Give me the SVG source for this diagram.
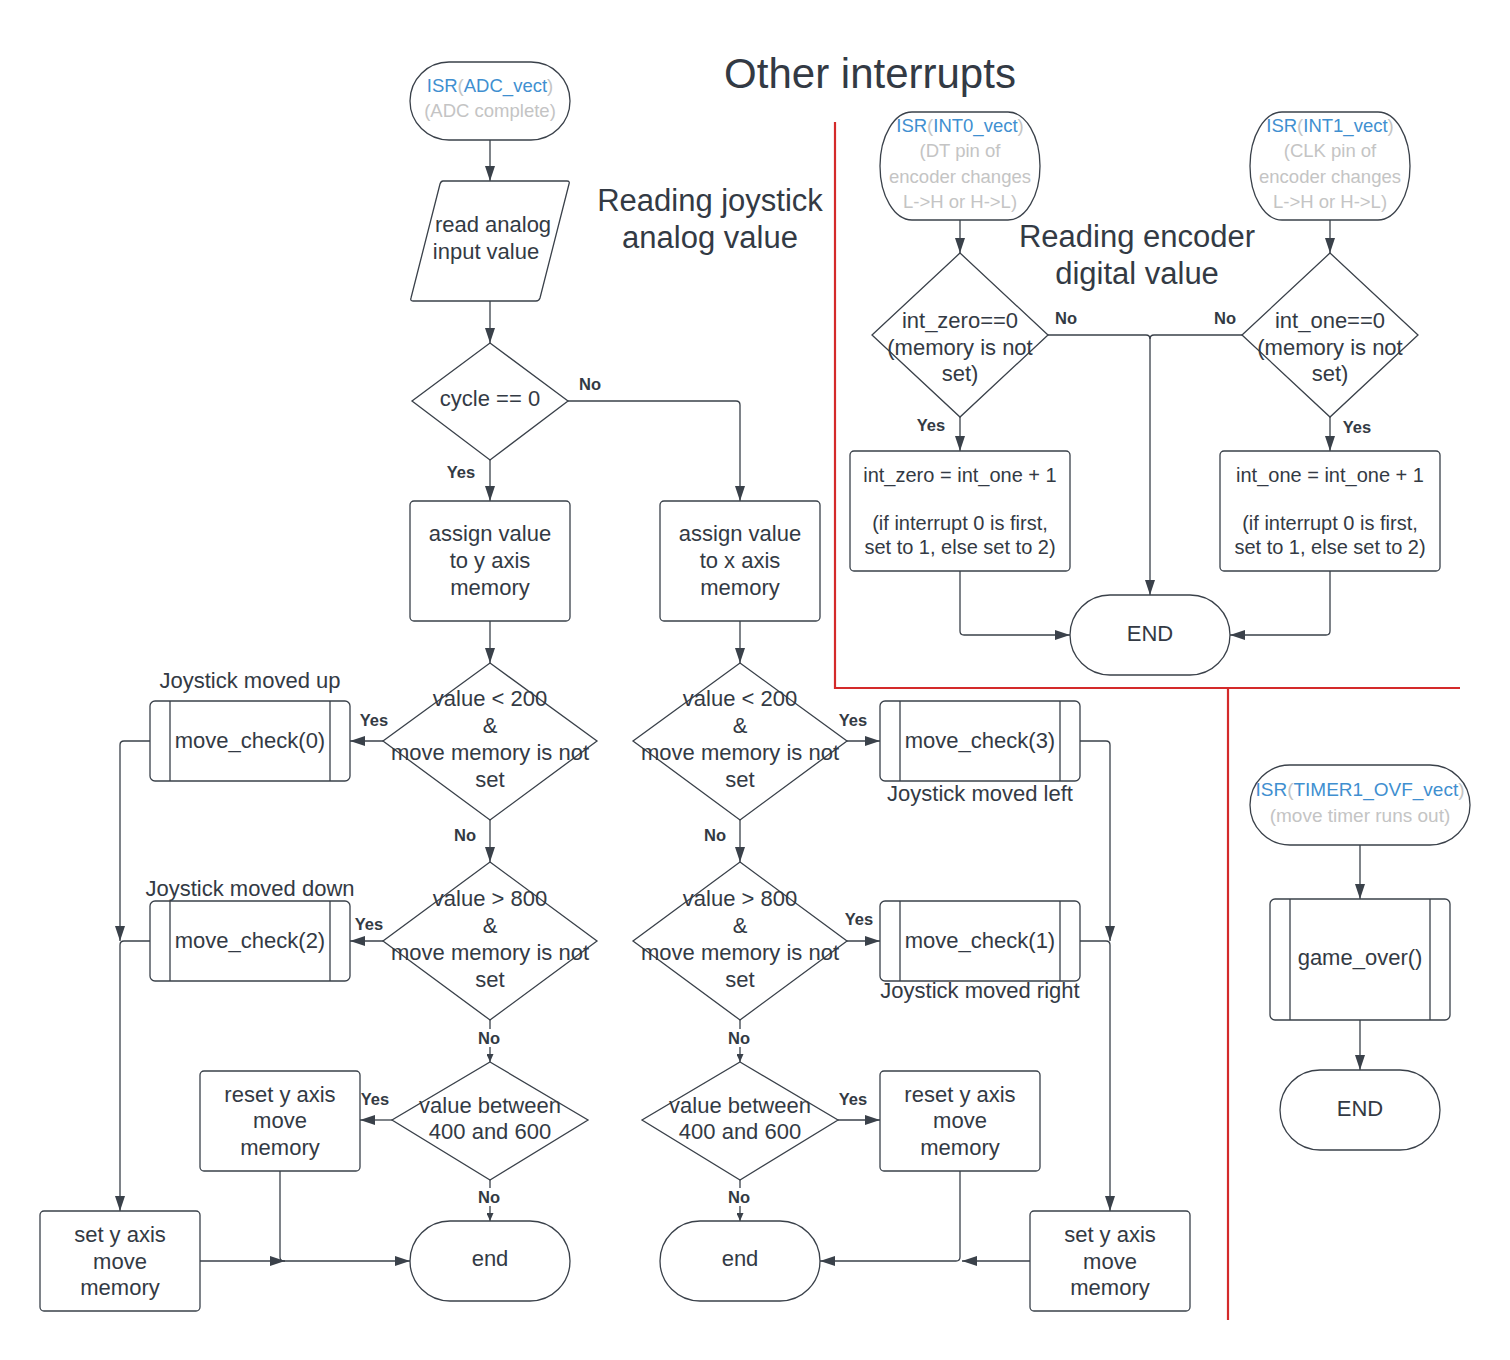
<svg xmlns="http://www.w3.org/2000/svg" width="1510" height="1360" viewBox="0 0 1510 1360">
<style>
.shape{fill:#fff;stroke:#3a414a;stroke-width:1.3}
.ln{fill:none;stroke:#3a414a;stroke-width:1.3}
.t{font-family:"Liberation Sans",Arial,sans-serif;font-size:22px;fill:#333a44;text-anchor:middle}
.s{font-size:18.5px}
.m{font-size:20px}
.lb{font-family:"Liberation Sans",Arial,sans-serif;font-size:16.5px;font-weight:bold;fill:#333a44;text-anchor:middle}
.h{font-family:"Liberation Sans",Arial,sans-serif;font-size:31px;fill:#333a44;text-anchor:middle}
.b{fill:#3f8fd0}
.g{fill:#c4c4c4}
.red{fill:none;stroke:#d42a2a;stroke-width:2.2}
</style>
<defs>
<marker id="a" markerUnits="userSpaceOnUse" markerWidth="15" markerHeight="10" refX="15" refY="5" orient="auto"><path d="M0,0 L15,5 L0,10 z" fill="#3a414a"/></marker>
<marker id="s" markerUnits="userSpaceOnUse" markerWidth="8" markerHeight="7" refX="8" refY="3.5" orient="auto"><path d="M0,0 L8,3.5 L0,7 z" fill="#3a414a"/></marker>
</defs>
<rect width="1510" height="1360" fill="#fff"/>

<g id="titles">
<text class="t" x="870" y="88" style="font-size:42px">Other interrupts</text>
<text class="h" x="710" y="211">Reading joystick</text>
<text class="h" x="710" y="248">analog value</text>
<text class="h" x="1137" y="247">Reading encoder</text>
<text class="h" x="1137" y="284">digital value</text>
</g>

<g id="dividers">
<path class="red" d="M835,122 V688 H1460"/>
<path class="red" d="M1228,688 V1320"/>
</g>

<g id="connectors">
<path class="ln" marker-end="url(#a)" d="M490,140 V181"/>
<path class="ln" marker-end="url(#a)" d="M490,301 V343"/>
<path class="ln" marker-end="url(#a)" d="M568,401 H736 Q740,401 740,405 V501"/>
<path class="ln" marker-end="url(#a)" d="M490,460 V501"/>
<path class="ln" marker-end="url(#a)" d="M490,621 V663"/>
<path class="ln" marker-end="url(#a)" d="M740,621 V663"/>
<path class="ln" marker-end="url(#a)" d="M383,741 H350"/>
<path class="ln" marker-end="url(#a)" d="M490,820 V862"/>
<path class="ln" marker-end="url(#a)" d="M383,941 H350"/>
<path class="ln" marker-end="url(#s)" d="M490,1020 V1062"/>
<path class="ln" marker-end="url(#a)" d="M392,1120 H360"/>
<path class="ln" marker-end="url(#s)" d="M490,1180 V1221"/>
<path class="ln" marker-end="url(#a)" d="M150,741 H124 Q120,741 120,745 V941"/>
<path class="ln" marker-end="url(#a)" d="M150,941 H124 Q120,941 120,945 V1211"/>
<path class="ln" marker-end="url(#a)" d="M200,1261 H285"/>
<path class="ln" marker-end="url(#a)" d="M280,1171 V1257 Q280,1261 284,1261 H410"/>
<path class="ln" marker-end="url(#a)" d="M847,741 H880"/>
<path class="ln" marker-end="url(#a)" d="M740,820 V862"/>
<path class="ln" marker-end="url(#a)" d="M847,941 H880"/>
<path class="ln" marker-end="url(#s)" d="M740,1020 V1062"/>
<path class="ln" marker-end="url(#a)" d="M838,1120 H880"/>
<path class="ln" marker-end="url(#s)" d="M740,1180 V1221"/>
<path class="ln" marker-end="url(#a)" d="M1080,741 H1106 Q1110,741 1110,745 V941"/>
<path class="ln" marker-end="url(#a)" d="M1080,941 H1106 Q1110,941 1110,945 V1211"/>
<path class="ln" marker-end="url(#a)" d="M1030,1261 H962"/>
<path class="ln" marker-end="url(#a)" d="M960,1171 V1257 Q960,1261 956,1261 H820"/>
<path class="ln" marker-end="url(#a)" d="M960,220 V253"/>
<path class="ln" marker-end="url(#a)" d="M1330,220 V253"/>
<path class="ln" marker-end="url(#a)" d="M1048,335 H1146 Q1150,335 1150,339 V595"/>
<path class="ln" d="M1242,335 H1154 Q1150,335 1150,339"/>
<path class="ln" marker-end="url(#a)" d="M960,417 V451"/>
<path class="ln" marker-end="url(#a)" d="M1330,417 V451"/>
<path class="ln" marker-end="url(#a)" d="M960,571 V631 Q960,635 964,635 H1070"/>
<path class="ln" marker-end="url(#a)" d="M1330,571 V631 Q1330,635 1326,635 H1230"/>
<path class="ln" marker-end="url(#a)" d="M1360,845 V899"/>
<path class="ln" marker-end="url(#a)" d="M1360,1020 V1070"/>
<g id="connector-labels">
<text class="lb" x="590" y="390">No</text>
<text class="lb" x="461" y="478">Yes</text>
<text class="lb" x="374" y="726">Yes</text>
<text class="lb" x="465" y="841">No</text>
<text class="lb" x="369" y="930">Yes</text>
<rect x="477" y="1029" width="26" height="18" fill="#fff"/>
<text class="lb" x="489" y="1044">No</text>
<text class="lb" x="375" y="1105">Yes</text>
<rect x="477" y="1188" width="26" height="18" fill="#fff"/>
<text class="lb" x="489" y="1203">No</text>
<text class="lb" x="853" y="726">Yes</text>
<text class="lb" x="715" y="841">No</text>
<text class="lb" x="859" y="925">Yes</text>
<rect x="727" y="1029" width="26" height="18" fill="#fff"/>
<text class="lb" x="739" y="1044">No</text>
<text class="lb" x="853" y="1105">Yes</text>
<rect x="727" y="1188" width="26" height="18" fill="#fff"/>
<text class="lb" x="739" y="1203">No</text>
<text class="lb" x="1066" y="324">No</text>
<text class="lb" x="1225" y="324">No</text>
<text class="lb" x="931" y="431">Yes</text>
<text class="lb" x="1357" y="433">Yes</text>
</g>
</g>

<g id="isr-adc">
<rect class="shape" x="410" y="62" width="160" height="78" rx="39"/>
<text class="t s" x="490" y="92"><tspan class="b">ISR</tspan><tspan class="g">(</tspan><tspan class="b">ADC_vect</tspan><tspan class="g">)</tspan></text>
<text class="t s g" x="490" y="117">(ADC complete)</text>
</g>
<g id="read-input">
<path class="shape" d="M443,181 H567 Q570,181 569,184 L540,298 Q539,301 536,301 H413 Q410,301 411,298 L440,184 Q441,181 443,181 Z"/>
<text class="t" x="493" y="232">read analog</text>
<text class="t" x="486" y="259">input value</text>
</g>
<g id="cycle-check">
<path class="shape" d="M490,343 L568,401 L490,460 L412,401 Z"/>
<text class="t" x="490" y="406">cycle == 0</text>
</g>
<g id="assign-y">
<rect class="shape" x="410" y="501" width="160" height="120" rx="4"/>
<text class="t" x="490" y="541">assign value</text>
<text class="t" x="490" y="568">to y axis</text>
<text class="t" x="490" y="595">memory</text>
</g>
<g id="assign-x">
<rect class="shape" x="660" y="501" width="160" height="120" rx="4"/>
<text class="t" x="740" y="541">assign value</text>
<text class="t" x="740" y="568">to x axis</text>
<text class="t" x="740" y="595">memory</text>
</g>

<g id="y-lt200">
<path class="shape" d="M490,663 L597,741 L490,820 L383,741 Z"/>
<text class="t" x="490" y="706">value &lt; 200</text>
<text class="t" x="490" y="733">&amp;</text>
<text class="t" x="490" y="760">move memory is not</text>
<text class="t" x="490" y="787">set</text>
</g>
<g id="y-gt800">
<path class="shape" d="M490,862 L597,941 L490,1020 L383,941 Z"/>
<text class="t" x="490" y="906">value &gt; 800</text>
<text class="t" x="490" y="933">&amp;</text>
<text class="t" x="490" y="960">move memory is not</text>
<text class="t" x="490" y="987">set</text>
</g>
<g id="y-between">
<path class="shape" d="M490,1062 L588,1120 L490,1180 L392,1120 Z"/>
<text class="t" x="490" y="1113">value between</text>
<text class="t" x="490" y="1139">400 and 600</text>
</g>
<g id="move-check-0">
<text class="t" x="250" y="688">Joystick moved up</text>
<rect class="shape" x="150" y="701" width="200" height="80" rx="5"/>
<path class="ln" d="M170,701 V781 M330,701 V781"/>
<text class="t" x="250" y="748">move_check(0)</text>
</g>
<g id="move-check-2">
<text class="t" x="250" y="896">Joystick moved down</text>
<rect class="shape" x="150" y="901" width="200" height="80" rx="5"/>
<path class="ln" d="M170,901 V981 M330,901 V981"/>
<text class="t" x="250" y="948">move_check(2)</text>
</g>
<g id="reset-y-left">
<rect class="shape" x="200" y="1071" width="160" height="100" rx="4"/>
<text class="t" x="280" y="1102">reset y axis</text>
<text class="t" x="280" y="1128">move</text>
<text class="t" x="280" y="1155">memory</text>
</g>
<g id="set-y-left">
<rect class="shape" x="40" y="1211" width="160" height="100" rx="4"/>
<text class="t" x="120" y="1242">set y axis</text>
<text class="t" x="120" y="1269">move</text>
<text class="t" x="120" y="1295">memory</text>
</g>
<g id="end-left">
<rect class="shape" x="410" y="1221" width="160" height="80" rx="40"/>
<text class="t" x="490" y="1266">end</text>
</g>

<g id="x-lt200">
<path class="shape" d="M740,663 L847,741 L740,820 L633,741 Z"/>
<text class="t" x="740" y="706">value &lt; 200</text>
<text class="t" x="740" y="733">&amp;</text>
<text class="t" x="740" y="760">move memory is not</text>
<text class="t" x="740" y="787">set</text>
</g>
<g id="x-gt800">
<path class="shape" d="M740,862 L847,941 L740,1020 L633,941 Z"/>
<text class="t" x="740" y="906">value &gt; 800</text>
<text class="t" x="740" y="933">&amp;</text>
<text class="t" x="740" y="960">move memory is not</text>
<text class="t" x="740" y="987">set</text>
</g>
<g id="x-between">
<path class="shape" d="M740,1062 L838,1120 L740,1180 L642,1120 Z"/>
<text class="t" x="740" y="1113">value between</text>
<text class="t" x="740" y="1139">400 and 600</text>
</g>
<g id="move-check-3">
<rect class="shape" x="880" y="701" width="200" height="80" rx="5"/>
<path class="ln" d="M900,701 V781 M1060,701 V781"/>
<text class="t" x="980" y="748">move_check(3)</text>
<text class="t" x="980" y="801">Joystick moved left</text>
</g>
<g id="move-check-1">
<rect class="shape" x="880" y="901" width="200" height="80" rx="5"/>
<path class="ln" d="M900,901 V981 M1060,901 V981"/>
<text class="t" x="980" y="948">move_check(1)</text>
<text class="t" x="980" y="998">Joystick moved right</text>
</g>
<g id="reset-y-right">
<rect class="shape" x="880" y="1071" width="160" height="100" rx="4"/>
<text class="t" x="960" y="1102">reset y axis</text>
<text class="t" x="960" y="1128">move</text>
<text class="t" x="960" y="1155">memory</text>
</g>
<g id="set-y-right">
<rect class="shape" x="1030" y="1211" width="160" height="100" rx="4"/>
<text class="t" x="1110" y="1242">set y axis</text>
<text class="t" x="1110" y="1269">move</text>
<text class="t" x="1110" y="1295">memory</text>
</g>
<g id="end-right">
<rect class="shape" x="660" y="1221" width="160" height="80" rx="40"/>
<text class="t" x="740" y="1266">end</text>
</g>

<g id="isr-int0">
<rect class="shape" x="880" y="112" width="160" height="108" rx="32" ry="54"/>
<text class="t s" x="960" y="132"><tspan class="b">ISR</tspan><tspan class="g">(</tspan><tspan class="b">INT0_vect</tspan><tspan class="g">)</tspan></text>
<text class="t s g" x="960" y="157">(DT pin of</text>
<text class="t s g" x="960" y="183">encoder changes</text>
<text class="t s g" x="960" y="208">L-&gt;H or H-&gt;L)</text>
</g>
<g id="isr-int1">
<rect class="shape" x="1250" y="112" width="160" height="108" rx="32" ry="54"/>
<text class="t s" x="1330" y="132"><tspan class="b">ISR</tspan><tspan class="g">(</tspan><tspan class="b">INT1_vect</tspan><tspan class="g">)</tspan></text>
<text class="t s g" x="1330" y="157">(CLK pin of</text>
<text class="t s g" x="1330" y="183">encoder changes</text>
<text class="t s g" x="1330" y="208">L-&gt;H or H-&gt;L)</text>
</g>
<g id="int-zero-check">
<path class="shape" d="M960,253 L1048,335 L960,417 L872,335 Z"/>
<text class="t" x="960" y="328">int_zero==0</text>
<text class="t" x="960" y="355">(memory is not</text>
<text class="t" x="960" y="381">set)</text>
</g>
<g id="int-one-check">
<path class="shape" d="M1330,253 L1418,335 L1330,417 L1242,335 Z"/>
<text class="t" x="1330" y="328">int_one==0</text>
<text class="t" x="1330" y="355">(memory is not</text>
<text class="t" x="1330" y="381">set)</text>
</g>
<g id="set-int-zero">
<rect class="shape" x="850" y="451" width="220" height="120" rx="4"/>
<text class="t m" x="960" y="482">int_zero = int_one + 1</text>
<text class="t m" x="960" y="530">(if interrupt 0 is first,</text>
<text class="t m" x="960" y="554">set to 1, else set to 2)</text>
</g>
<g id="set-int-one">
<rect class="shape" x="1220" y="451" width="220" height="120" rx="4"/>
<text class="t m" x="1330" y="482">int_one = int_one + 1</text>
<text class="t m" x="1330" y="530">(if interrupt 0 is first,</text>
<text class="t m" x="1330" y="554">set to 1, else set to 2)</text>
</g>
<g id="end-encoder">
<rect class="shape" x="1070" y="595" width="160" height="80" rx="40"/>
<text class="t" x="1150" y="641">END</text>
</g>

<g id="isr-timer1">
<rect class="shape" x="1250" y="765" width="220" height="80" rx="40"/>
<text class="t" x="1360" y="796" style="font-size:19px"><tspan class="b">ISR</tspan><tspan class="g">(</tspan><tspan class="b">TIMER1_OVF_vect</tspan><tspan class="g">)</tspan></text>
<text class="t g" x="1360" y="822" style="font-size:19px">(move timer runs out)</text>
</g>
<g id="game-over">
<rect class="shape" x="1270" y="899" width="180" height="121" rx="5"/>
<path class="ln" d="M1290,899 V1020 M1430,899 V1020"/>
<text class="t" x="1360" y="965">game_over()</text>
</g>
<g id="end-timer">
<rect class="shape" x="1280" y="1070" width="160" height="80" rx="40"/>
<text class="t" x="1360" y="1116">END</text>
</g>
</svg>
